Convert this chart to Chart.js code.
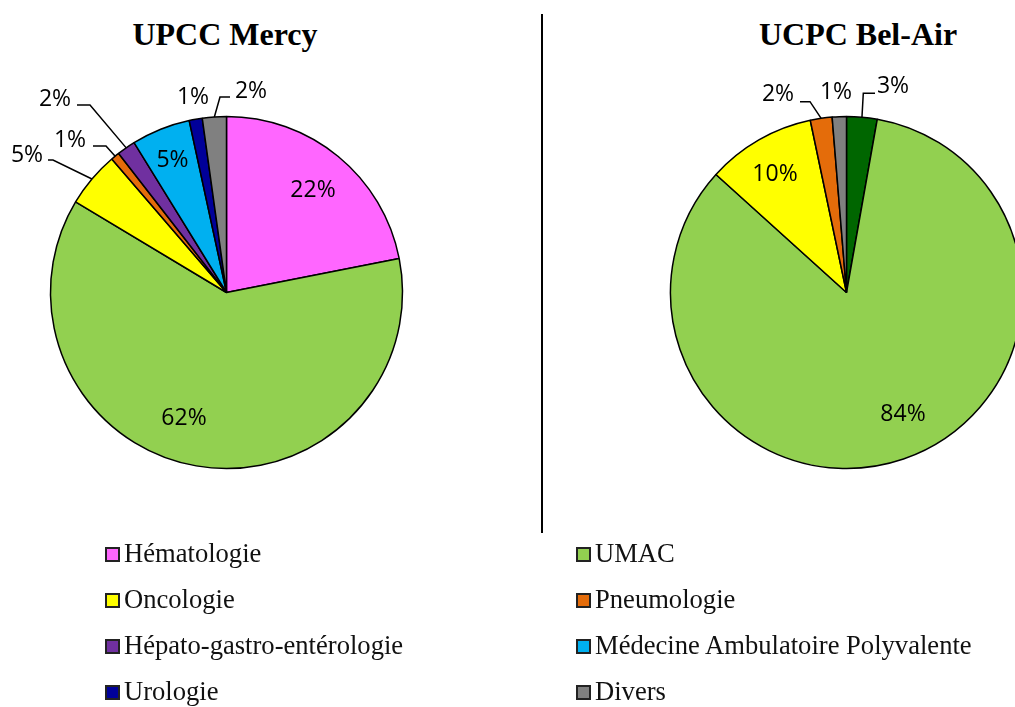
<!DOCTYPE html>
<html lang="fr">
<head>
  <meta charset="UTF-8">
  <title>UPCC Mercy / UCPC Bel-Air</title>
  <script src="https://cdn.jsdelivr.net/npm/chart.js"></script>
  <style>
    html, body {
      margin: 0;
      padding: 0;
      background: #fff;
      overflow: hidden;
      width: 1015px;
      height: 707px;
    }
    .title {
      position: absolute;
      top: 18px;
      width: 400px;
      text-align: center;
      font-family: "Liberation Serif", serif;
      font-weight: bold;
      font-size: 32px;
      line-height: 32px;
      color: #000;
    }
    canvas {
      position: absolute;
      top: 0;
    }
    #divider {
      position: absolute;
      left: 541px;
      top: 14px;
      width: 1.5px;
      height: 519px;
      background: #000;
    }
    .legend {
      position: absolute;
      top: 530px;
      font-family: "Liberation Serif", serif;
      font-size: 26.6px;
      color: #111;
    }
    .legend .row {
      height: 46px;
      line-height: 46px;
      display: flex;
      align-items: center;
      white-space: nowrap;
    }
    .legend .box {
      width: 11px;
      height: 11px;
      border: 2px solid #222;
      margin-right: 4px;
      margin-top: 2px;
    }
  </style>
</head>
<body>
  <div class="title" style="left:25px">UPCC Mercy</div>
  <div class="title" style="left:658px">UCPC Bel-Air</div>
  <div id="divider"></div>
  <canvas id="mercy" width="540" height="540" style="left:0"></canvas>
  <canvas id="belair" width="470" height="540" style="left:545px"></canvas>
  <div class="legend" id="legendLeft" style="left:105px"></div>
  <div class="legend" id="legendRight" style="left:576px"></div>

  <script>
    // données
    const categories = ['Hématologie', 'UMAC', 'Oncologie', 'Pneumologie',
      'Hépato-gastro-entérologie', 'Médecine Ambulatoire Polyvalente', 'Urologie', 'Divers'];
    const mercyValues = [21.9, 61.7, 5.1, 0.8, 1.7, 5.4, 1.2, 2.2];
    const belAirValues = [2.8, 83.9, 10.0, 2.0, 0, 0, 0, 1.3];

    const colors = ['#FF66FF', '#92D050', '#FFFF00', '#E46C0A', '#7030A0', '#00B0F0', '#000099', '#808080'];
    const belAirColors = ['#006600'].concat(colors.slice(1));

    // emplacement des étiquettes (décalage depuis le centre du camembert)
    const mercySpots = [
      { i: 0, at: [86.5, -102.5] },
      { i: 1, at: [-42.5, 125.5] },
      { i: 5, at: [-54, -132.5] },
      { i: 2, at: [-199.5, -137.5], elbow: [-173.5, -132.5], end: [-178.5, -132.5] },
      { i: 3, at: [-156.5, -152.5], elbow: [-120.5, -146.5], end: [-133.5, -146.5] },
      { i: 4, at: [-171.5, -193.5], elbow: [-136.5, -187.5], end: [-149.5, -187.5] },
      { i: 6, at: [-33.5, -195.5] },
      { i: 7, at: [24.5, -201.5], elbow: [-6.5, -195.5], end: [3.5, -195.5] }
    ];
    const belAirSpots = [
      { i: 2, at: [-71.5, -118.5] },
      { i: 1, at: [56.5, 121.5] },
      { i: 3, at: [-68.5, -198.5], elbow: [-36.5, -190.8], end: [-46.5, -190.8] },
      { i: 7, at: [-10.5, -200.5] },
      { i: 0, at: [46.5, -206.5], elbow: [16.8, -199.2], end: [28.5, -199.2] }
    ];

    const sliceLabels = {
      id: 'sliceLabels',
      afterDatasetsDraw(chart, args, opts) {
        const ctx = chart.ctx;
        const meta = chart.getDatasetMeta(0);
        const values = chart.data.datasets[0].data;
        const total = values.reduce((a, b) => a + b, 0);
        ctx.save();
        ctx.font = '23px "Open Sans"';
        ctx.fillStyle = '#000';
        ctx.strokeStyle = '#000';
        ctx.lineWidth = 1.5;
        ctx.textAlign = 'center';
        ctx.textBaseline = 'middle';
        opts.spots.forEach(s => {
          const arc = meta.data[s.i];
          const cx = arc.x, cy = arc.y;
          if (s.elbow) {
            const mid = (arc.startAngle + arc.endAngle) / 2;
            const r = arc.outerRadius;
            ctx.beginPath();
            ctx.moveTo(cx + Math.cos(mid) * r, cy + Math.sin(mid) * r);
            ctx.lineTo(cx + s.elbow[0], cy + s.elbow[1]);
            ctx.lineTo(cx + s.end[0], cy + s.end[1]);
            ctx.stroke();
          }
          const txt = Math.round(values[s.i] / total * 100) + '%';
          ctx.fillText(txt, cx + s.at[0], cy + s.at[1]);
        });
        ctx.restore();
      }
    };

    function makePie(id, values, sliceColors, spots, padding) {
      return new Chart(document.getElementById(id), {
        type: 'pie',
        data: {
          labels: categories,
          datasets: [{
            data: values,
            backgroundColor: sliceColors,
            borderColor: '#000',
            borderWidth: 1.5,
            radius: 176
          }]
        },
        options: {
          responsive: false,
          animation: false,
          events: [],
          layout: { padding: padding },
          plugins: {
            legend: { display: false },
            tooltip: { enabled: false },
            sliceLabels: { spots: spots }
          }
        },
        plugins: [sliceLabels]
      });
    }

    makePie('mercy', mercyValues, colors, mercySpots, { left: 0, right: 87, top: 45, bottom: 0 });
    makePie('belair', belAirValues, belAirColors, belAirSpots, { left: 133, right: 0, top: 45, bottom: 0 });

    // légende commune
    const left = document.getElementById('legendLeft');
    const right = document.getElementById('legendRight');
    categories.forEach((name, k) => {
      const row = document.createElement('div');
      row.className = 'row';
      const box = document.createElement('span');
      box.className = 'box';
      box.style.background = colors[k];
      row.appendChild(box);
      row.appendChild(document.createTextNode(name));
      (k % 2 === 0 ? left : right).appendChild(row);
    });
  </script>
</body>
</html>
